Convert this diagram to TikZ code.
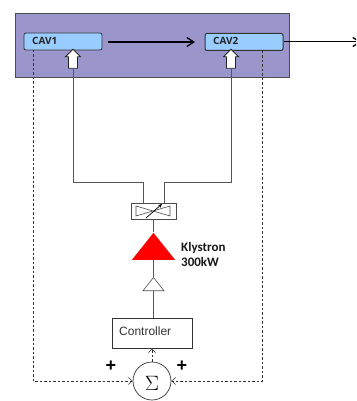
\documentclass[tikz,border=0pt]{standalone}
\usepackage{fontspec}
\setmainfont{Liberation Sans}
\newfontfamily\calfont{Carlito}
\newfontfamily\cavfont{Open Sans}
\usetikzlibrary{arrows.meta,shapes.geometric,shapes.arrows}
\definecolor{cavfill}{HTML}{99CCFF}
\definecolor{cryo}{HTML}{9A96CC}
\definecolor{linegray}{HTML}{555555}
\tikzset{
 cav/.style={draw=black!80,fill=cavfill,rounded corners=2pt,line width=.8pt,minimum width=78pt,minimum height=17pt,inner sep=0pt},
 cavtext/.style={font=\cavfont\fontsize{10}{10}\selectfont\bfseries,text=black!85,inner sep=0pt},
 feed/.style={draw=linegray,line width=.7pt},
 sense/.style={draw=black!80,line width=.5pt,dash pattern=on 2.5pt off 2pt},
 hollow/.style={draw=black!85,fill=white,line width=.9pt,shape=single arrow,shape border rotate=90,minimum height=19pt,minimum width=15pt,single arrow head extend=3pt,inner sep=4pt,single arrow tip angle=90},
 tri/.style={isosceles triangle,isosceles triangle apex angle=77,shape border rotate=90,inner sep=0pt,anchor=south},
 beam/.style={line width=1.3pt,draw=black,-{Straight Barb[length=7pt,width=9pt,line width=1.3pt]}},
 openhead/.style={-{Straight Barb[length=4pt,width=7pt,line width=.5pt]}},
 plusmark/.style={font=\bfseries\fontsize{18}{18}\selectfont,inner sep=0pt},
}
\begin{document}
\begin{tikzpicture}[x=1pt,y=-1pt]
\useasboundingbox (0,0) rectangle (356,401);
\clip (0,0) rectangle (356,401);
\node[draw=black!70,fill=cryo,line width=.7pt,minimum width=274pt,minimum height=64pt,inner sep=0pt] (cryo) at (152,45) {};
\node[cav] (cav1) at (63,41.5) {};
\node[cav,line width=1pt] (cav2) at (244,42) {};
\node[cavtext,anchor=west] (cav1t) at (32,41) {CAV1};
\node[cavtext,anchor=west] (cav2t) at (213,41) {CAV2};
\coordinate (outend) at (361,42);
\coordinate (b1) at (108,42);
\coordinate (b2) at (195,42);
\draw[beam] (b1) -- (b2);
\draw[beam,line width=1pt] (cav2.east) -- (outend);
\node[hollow] (in1) at (73,61) {};
\node[hollow] (in2) at (231,61) {};
\node[draw=black!70,fill=white,line width=.7pt,minimum width=45pt,minimum height=16pt,inner sep=0pt] (att) at (153.5,211) {};
\node[tri,draw=none,fill=red,minimum width=43pt,minimum height=27pt] (kly) at (153.5,260) {};
\node[tri,draw=black!70,fill=white,line width=.6pt,minimum width=21pt,minimum height=13pt] (pre) at (153.5,291) {};
\node[draw=black!80,fill=white,line width=.7pt,minimum width=80pt,minimum height=30pt,inner sep=0pt] (ctrl) at (152,333) {};
\node[font=\fontsize{12}{12}\selectfont,text=black!80,anchor=west,inner sep=0pt] (ctrlt) at (119,331) {Controller};
\node[circle,draw=black!80,fill=white,line width=.7pt,minimum size=38pt,inner sep=0pt] (sum) at (152,381) {};
\node[font=\fontsize{20}{20}\selectfont,inner sep=0pt] (sumt) at (152,383) {$\Sigma$};
\node[align=left,anchor=west,font=\calfont\fontsize{13}{15}\selectfont\bfseries,text=black!90,inner sep=0pt] (klt) at (181,254.5) {Klystron\\300kW};
\node[plusmark] (p1) at (111,366) {+};
\node[plusmark] (p2) at (182,366) {+};
\coordinate (bl) at (136,206);\coordinate (bl2) at (136,216);
\coordinate (br) at (170,206);\coordinate (br2) at (170,216);
\draw[draw=black!70,line width=.6pt] (bl) -- (br2) -- (br) -- (bl2) -- cycle;
\draw[line width=.7pt,-{Stealth[length=4pt,width=3.5pt]}] (146,218) -- (162,204);
\coordinate (j1) at (143,203);\coordinate (j2) at (164,203);
\draw[feed] (in1.south) |- (143,182) -- (j1);
\draw[feed] (in2.south) |- (164,182) -- (j2);
\draw[feed] (att.south) -- (kly.north);
\draw[feed] (kly.south) -- (pre.north);
\draw[feed] (pre.south) -- (pre.south |- ctrl.north);
\draw[sense,openhead] (33,50) |- (sum.west);
\draw[sense,openhead] (262,51) |- (sum.east);
\draw[sense,openhead] (sum.north) -- (ctrl.south);
\end{tikzpicture}
\end{document}
